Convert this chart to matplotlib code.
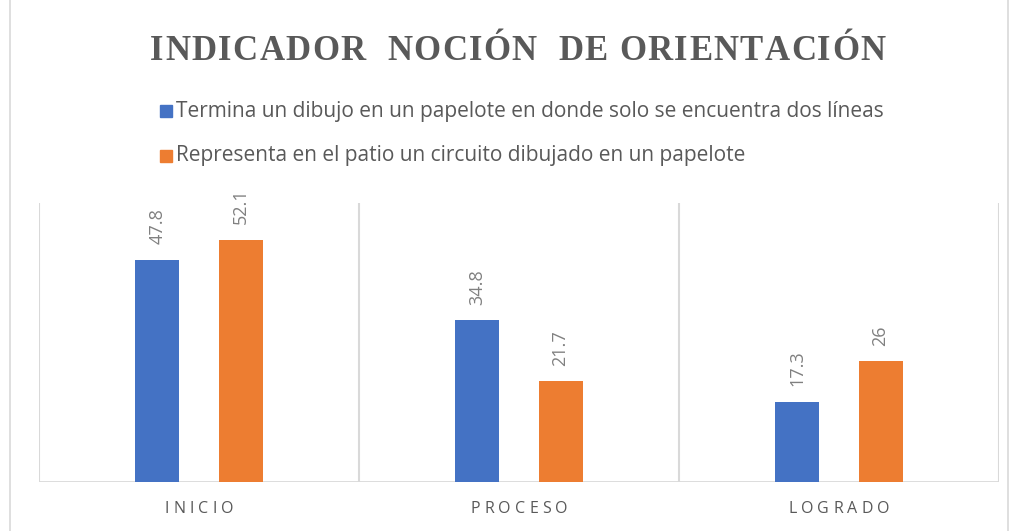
import numpy as np
import matplotlib.pyplot as plt
from matplotlib.lines import Line2D
from matplotlib.patches import Rectangle

categories = ['INICIO', 'PROCESO', 'LOGRADO']
serie_1 = [47.8, 34.8, 17.3]
serie_2 = [52.1, 21.7, 26]
labels_1 = ['47.8', '34.8', '17.3']
labels_2 = ['52.1', '21.7', '26']
legend_names = ['Termina un dibujo en un papelote en donde solo se encuentra dos líneas',
                'Representa en el patio un circuito dibujado en un papelote']
title = 'INDICADOR  NOCIÓN  DE ORIENTACIÓN'

blue = '#4472C4'
orange = '#ED7D31'
grey_text = '#595959'
grid_col = '#D9D9D9'

W, H = 1013, 531
fig = plt.figure(figsize=(W / 100, H / 100), dpi=100)
fig.patch.set_facecolor('white')
renderer = fig.canvas.get_renderer()


def spaced_text(x_px, y_px, s, gap, **kw):
    # draw text letter by letter with extra spacing, centered on x_px
    pieces = []
    for ch in s:
        t = fig.text(0, 0, ch, **kw)
        w = t.get_window_extent(renderer).width
        if ch == ' ':
            w = kw.get('fontsize', 10) * 100 / 72 * 0.25
        pieces.append((t, w))
    total = sum(w for _, w in pieces) + gap * (len(pieces) - 1)
    x = x_px - total / 2
    for t, w in pieces:
        t.set_position((x / W, 1 - y_px / H))
        t.set_ha('left')
        t.set_va('center')
        x += w + gap


# chart frame
fig.add_artist(Line2D([10 / W, 10 / W], [0, 1], color=grid_col, lw=1.2))
fig.add_artist(Line2D([1008 / W, 1008 / W], [0, 1], color=grid_col, lw=1.2))

ax = fig.add_axes([39 / W, (H - 482) / H, 960 / W, (482 - 203) / H])
x = np.arange(len(categories))
bw = 0.1375
off = 0.13
b1 = ax.bar(x - off, serie_1, bw, color=blue, zorder=3)
b2 = ax.bar(x + off, serie_2, bw, color=orange, zorder=3)
ax.set_xlim(-0.5, len(categories) - 0.5)
ax.set_ylim(0, 60)

for bars, labs in ((b1, labels_1), (b2, labels_2)):
    for r, lab in zip(bars, labs):
        ax.annotate(lab, (r.get_x() + r.get_width() / 2, r.get_height()),
                    xytext=(0, 11), textcoords='offset points', rotation=90,
                    ha='center', va='bottom', fontsize=13, color='#808080',
                    family='Open Sans')

for b in np.arange(len(categories) + 1) - 0.5:
    ax.axvline(b, color=grid_col, lw=1.5, zorder=1)
for s in ax.spines.values():
    s.set_visible(False)
ax.axhline(0, color=grid_col, lw=2, zorder=2)
ax.set_xticks([])
ax.set_yticks([])

for i, c in enumerate(categories):
    xp = 39 + 320 * i + 160
    spaced_text(xp, 509, c, 4.2, fontsize=11.5, color=grey_text, family='Open Sans')

spaced_text(518, 51, title, 1.35, fontsize=25, color=grey_text,
            family='Liberation Serif', fontweight='bold')

# legend
for j, (name, col) in enumerate(zip(legend_names, [blue, orange])):
    yc = 111 + 45 * j
    fig.add_artist(Rectangle((160 / W, 1 - (yc + 6) / H), 12 / W, 12 / H,
                             color=col, transform=fig.transFigure))
    fig.text(176 / W, 1 - yc / H, name, ha='left', va='center', fontsize=15,
             color=grey_text, family='Open Sans')

fig.savefig('out.png', dpi=100)
